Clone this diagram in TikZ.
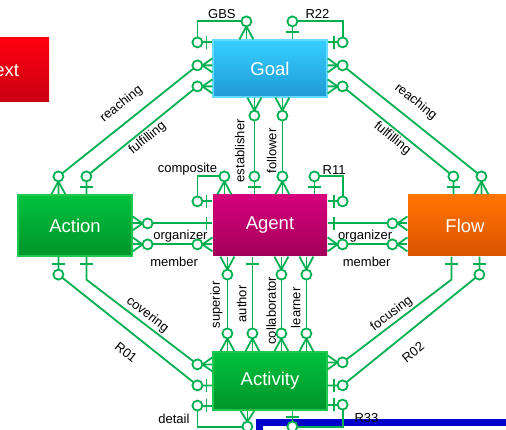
\documentclass[tikz,border=0pt]{standalone}
\usepackage{fontspec}
\setmainfont{Liberation Sans}
\usepackage{tikz}
\usetikzlibrary{positioning}
\definecolor{relgreen}{HTML}{00B050}
\definecolor{goaltop}{HTML}{36CFFF}
\definecolor{goalbot}{HTML}{1F9AD6}
\definecolor{goalline}{HTML}{66DBFF}
\definecolor{agenttop}{HTML}{D6007C}
\definecolor{agentbot}{HTML}{A3005B}
\definecolor{greentop}{HTML}{00C23E}
\definecolor{greenbot}{HTML}{00942A}
\definecolor{greenline}{HTML}{1FC94F}
\definecolor{flowtop}{HTML}{FF7400}
\definecolor{flowbot}{HTML}{DB5400}
\definecolor{redtop}{HTML}{FF0010}
\definecolor{redbot}{HTML}{C80010}
\definecolor{darkblue}{HTML}{0000CC}
\tikzset{
    entity-box/.style = {rectangle, text=white, font=\fontsize{18.5}{22}\selectfont, line width=1.2pt, minimum width=114pt, minimum height=61pt, inner sep=0pt},
    rel-line/.style = {draw=relgreen, line width=1.8pt},
    rel-label/.style = {font=\fontsize{13}{15}\selectfont, inner sep=2pt},
    pics/zero-many/.style = {code={
        \draw[rel-line] (#1-5,0) -- (0,7) (#1-5,0) -- (0,-7);
        \draw[rel-line, fill=white] (#1,0) circle (5pt);
    }},
    pics/zero-one/.style = {code={
        \draw[rel-line] (0.4*#1,6.5) -- (0.4*#1,-6.5);
        \draw[rel-line, fill=white] (#1,0) circle (5pt);
    }},
    pics/one-bar/.style = {code={
        \draw[rel-line] (0.4*#1,6.5) -- (0.4*#1,-6.5);
    }},
}

\begin{document}
\begin{tikzpicture}[x=1pt, y=-1pt]
\useasboundingbox (0,0) rectangle (506,430);
\clip (0,0) rectangle (506,430);
\draw[darkblue, line width=7pt, fill=white] (259.5,422.5) rectangle (560,480);

% entities
\node[entity-box, top color=redtop, bottom color=redbot, minimum width=94pt, minimum height=64pt] (text-box) at (2,70) {Text};
\node[entity-box, top color=goaltop, bottom color=goalbot, draw=goalline, minimum height=57pt] (goal) at (270,68.5) {Goal};
\node[entity-box, top color=greentop, bottom color=greenbot, draw=greenline] (action) at (75,225.5) {Action};
\node[entity-box, top color=agenttop, bottom color=agentbot] (agent) at (270,225.5) {Agent};
\node[entity-box, top color=flowtop, bottom color=flowbot] (flow) at (465,225.5) {Flow};
\node[entity-box, top color=greentop, bottom color=greenbot, draw=greenline, minimum height=58pt] (activity) at (270,381) {Activity};

% Goal
\draw[rel-line] ([yshift=-3pt]goal.north west) coordinate (gbs-a) -- ++(-15,0) -- ++(0,-21)
    -| node[rel-label, pos=0.25, above] {GBS} ([xshift=34pt]goal.north west) coordinate (gbs-b);
\draw[rel-line] ([xshift=80pt]goal.north west) coordinate (r22-a)
    |- node[rel-label, pos=0.75, above] {R22} ([xshift=15pt, yshift=18pt]goal.north east)
    -- ++(0,21) -- ([yshift=-3pt]goal.north east) coordinate (r22-b);
\draw[rel-line] ([yshift=-26pt]goal.north west) coordinate (reach-l-a) -- ++(-15,0)
    -- node[rel-label, sloped, above, pos=0.47, inner ysep=10pt] {reaching} ([xshift=41pt, yshift=18pt]action.north west)
    -- ([xshift=41pt]action.north west) coordinate (reach-l-b);
\draw[rel-line] ([yshift=-47pt]goal.north west) coordinate (fulfil-l-a) -- ++(-15,0)
    -- node[rel-label, sloped, below] {fulfilling} ([xshift=69pt, yshift=18pt]action.north west)
    -- ([xshift=69pt]action.north west) coordinate (fulfil-l-b);
\draw[rel-line] ([yshift=-26pt]goal.north east) coordinate (reach-r-a) -- ++(15,0)
    -- node[rel-label, sloped, above, pos=0.45, inner ysep=10pt] {reaching} ([xshift=74pt, yshift=18pt]flow.north west)
    -- ([xshift=74pt]flow.north west) coordinate (reach-r-b);
\draw[rel-line] ([yshift=-47pt]goal.north east) coordinate (fulfil-r-a) -- ++(15,0)
    -- node[rel-label, sloped, below] {fulfilling} ([xshift=46pt, yshift=18pt]flow.north west)
    -- ([xshift=46pt]flow.north west) coordinate (fulfil-r-b);
\draw[rel-line] ([xshift=42pt]agent.north west) coordinate (est-b)
    -- node[rel-label, sloped, above, inner ysep=9pt, pos=0.45] {establisher} ([xshift=42pt]goal.south west) coordinate (est-a);
\draw[rel-line] ([xshift=70pt]agent.north west) coordinate (fol-b)
    -- node[rel-label, sloped, above, inner ysep=5pt, pos=0.45] {follower} ([xshift=70pt]goal.south west) coordinate (fol-a);

% Agent
\draw[rel-line] ([xshift=12pt]agent.north west) coordinate (comp-a) -- ++(0,-18)
    -- ++(-27,0) node[rel-label, above, inner sep=0.5pt, xshift=-10pt] {composite}
    |- ([yshift=-7pt]agent.north west) coordinate (comp-b);
\draw[rel-line] ([xshift=102pt]agent.north west) coordinate (r11-a) -- ++(0,-18)
    -| node[rel-label, pos=0.35, above, inner sep=0.5pt] {R11} ([xshift=15pt, yshift=-7pt]agent.north east)
    -- ([yshift=-7pt]agent.north east) coordinate (r11-b);
\draw[rel-line] ([yshift=-29pt]action.north east) coordinate (org-l-a)
    -- node[rel-label, below=4pt, pos=0.6] {organizer} ([yshift=-29pt]agent.north west) coordinate (org-l-b);
\draw[rel-line] ([yshift=-50pt]action.north east) coordinate (mem-l-a)
    -- node[rel-label, below=10pt, pos=0.52] {member} ([yshift=-50pt]agent.north west) coordinate (mem-l-b);
\draw[rel-line] ([yshift=-29pt]agent.north east) coordinate (org-r-a)
    -- node[rel-label, below=4pt, pos=0.47] {organizer} ([yshift=-29pt]flow.north west) coordinate (org-r-b);
\draw[rel-line] ([yshift=-50pt]agent.north east) coordinate (mem-r-a)
    -- node[rel-label, below=10pt, pos=0.49] {member} ([yshift=-50pt]flow.north west) coordinate (mem-r-b);
\draw[rel-line] ([xshift=15pt]activity.north west) coordinate (sup-b)
    -- node[rel-label, sloped, above, inner ysep=4pt, pos=0.49] {superior} ([xshift=15pt]agent.south west) coordinate (sup-a);
\draw[rel-line] ([xshift=40pt]activity.north west) coordinate (aut-b)
    -- node[rel-label, sloped, above, inner ysep=5pt] {author} ([xshift=40pt]agent.south west) coordinate (aut-a);
\draw[rel-line] ([xshift=69pt]activity.north west) coordinate (col-b)
    -- node[rel-label, sloped, above, inner ysep=4.5pt, pos=0.43] {collaborator} ([xshift=69pt]agent.south west) coordinate (col-a);
\draw[rel-line] ([xshift=94pt]activity.north west) coordinate (lea-b)
    -- node[rel-label, sloped, above, inner ysep=5pt, pos=0.46] {learner} ([xshift=94pt]agent.south west) coordinate (lea-a);

% Activity
\draw[rel-line] ([xshift=41pt]action.south west) coordinate (r01-a) -- ++(0,18)
    -- node[rel-label, sloped, below, pos=0.57, inner ysep=13pt] {R01} ([xshift=-15pt, yshift=-34pt]activity.north west)
    -- ([yshift=-34pt]activity.north west) coordinate (r01-b);
\draw[rel-line] ([xshift=69pt]action.south west) coordinate (cov-a) -- ++(0,23)
    -- node[rel-label, sloped, above] {covering} ([xshift=-15pt, yshift=-13pt]activity.north west)
    -- ([yshift=-13pt]activity.north west) coordinate (cov-b);
\draw[rel-line] ([yshift=-11pt]activity.north east) coordinate (foc-a) -- ++(15,0)
    -- node[rel-label, sloped, above] {focusing} ([xshift=44pt, yshift=-23pt]flow.south west)
    -- ([xshift=44pt]flow.south west) coordinate (foc-b);
\draw[rel-line] ([yshift=-34pt]activity.north east) coordinate (r02-a) -- ++(15,0)
    -- node[rel-label, sloped, below, pos=0.43, inner ysep=13pt] {R02} ([xshift=72pt, yshift=-18pt]flow.south west)
    -- ([xshift=72pt]flow.south west) coordinate (r02-b);
\draw[rel-line] ([yshift=5pt]activity.south west) coordinate (det-a) -- ++(-15,0)
    -- node[rel-label, pos=0.62, left=5pt] {detail} ++(0,21)
    -| ([xshift=35pt]activity.south west) coordinate (det-b);
\draw[rel-line] ([yshift=6pt]activity.south east) coordinate (r33-a) -- ++(15,0)
    -- node[rel-label, pos=0.6, right=9pt] {R33} ++(0,22)
    -| ([xshift=80pt]activity.south west) coordinate (r33-b);

% line ends
\path (gbs-a) pic[rotate=180] {zero-one=15} (gbs-b) pic[rotate=90] {zero-many=18};
\path (r22-a) pic[rotate=90] {zero-one=18} (r22-b) pic {zero-one=15};
\path (reach-l-a) pic[rotate=180] {zero-many=15} (reach-l-b) pic[rotate=90] {zero-many=18};
\path (fulfil-l-a) pic[rotate=180] {zero-many=15} (fulfil-l-b) pic[rotate=90] {zero-one=18};
\path (reach-r-a) pic {zero-many=15} (reach-r-b) pic[rotate=90] {zero-many=18};
\path (fulfil-r-a) pic {zero-many=15} (fulfil-r-b) pic[rotate=90] {zero-one=18};
\path (est-a) pic[rotate=-90] {zero-many=18} (est-b) pic[rotate=90] {zero-one=18};
\path (fol-a) pic[rotate=-90] {zero-many=18} (fol-b) pic[rotate=90] {zero-many=18};
\path (comp-a) pic[rotate=90] {zero-many=18} (comp-b) pic[rotate=180] {zero-one=15};
\path (r11-a) pic[rotate=90] {zero-one=18} (r11-b) pic {zero-one=15};
\path (org-l-a) pic {zero-many=15} (org-l-b) pic[rotate=180] {one-bar=15};
\path (mem-l-a) pic {zero-many=15} (mem-l-b) pic[rotate=180] {zero-many=15};
\path (org-r-a) pic {one-bar=15} (org-r-b) pic[rotate=180] {zero-many=15};
\path (mem-r-a) pic {zero-many=15} (mem-r-b) pic[rotate=180] {zero-many=15};
\path (sup-a) pic[rotate=-90] {zero-many=18} (sup-b) pic[rotate=90] {zero-many=18};
\path (aut-a) pic[rotate=-90] {one-bar=18} (aut-b) pic[rotate=90] {zero-many=18};
\path (col-a) pic[rotate=-90] {zero-many=18} (col-b) pic[rotate=90] {zero-many=18};
\path (lea-a) pic[rotate=-90] {zero-many=18} (lea-b) pic[rotate=90] {zero-many=18};
\path (r01-a) pic[rotate=-90] {zero-one=18} (r01-b) pic[rotate=180] {zero-one=15};
\path (cov-a) pic[rotate=-90] {one-bar=18} (cov-b) pic[rotate=180] {zero-many=15};
\path (foc-a) pic {zero-many=15} (foc-b) pic[rotate=-90] {one-bar=18};
\path (r02-a) pic {zero-one=15} (r02-b) pic[rotate=-90] {zero-one=18};
\path (det-a) pic[rotate=180] {zero-one=15} (det-b) pic[rotate=-90] {zero-many=16};
\path (r33-a) pic {zero-one=15} (r33-b) pic[rotate=-90] {zero-one=16};
\end{tikzpicture}
\end{document}
